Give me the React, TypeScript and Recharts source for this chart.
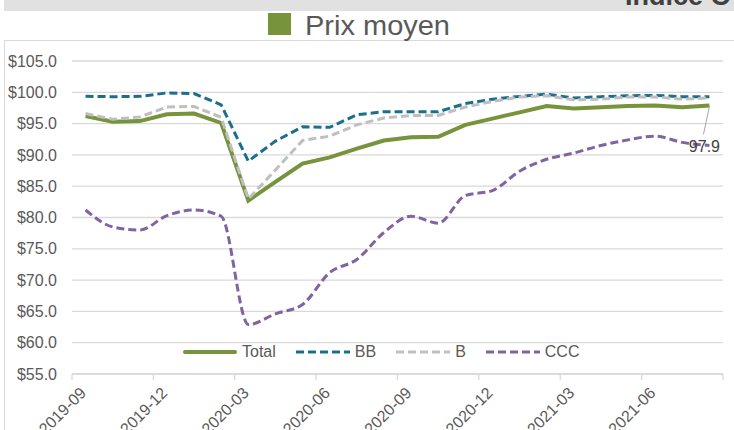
import React from 'react';
import { LineChart, Line, XAxis, YAxis, CartesianGrid, Legend, LabelList } from 'recharts';

const FONT = '"Liberation Sans", Arial, sans-serif';
const TEXT = '#595959';

const months = [
  '2019-09', '2019-10', '2019-11', '2019-12', '2020-01', '2020-02', '2020-03', '2020-04',
  '2020-05', '2020-06', '2020-07', '2020-08', '2020-09', '2020-10', '2020-11', '2020-12',
  '2021-01', '2021-02', '2021-03', '2021-04', '2021-05', '2021-06', '2021-07', '2021-08',
];
const tickLabels = ['2019-09', '2019-12', '2020-03', '2020-06', '2020-09', '2020-12', '2021-03', '2021-06', ''];
const xTicks = [0, 3, 6, 9, 12, 15, 18, 21, 24];
const yTicks = [55, 60, 65, 70, 75, 80, 85, 90, 95, 100, 105];

const totalValues = [96.2, 95.3, 95.4, 96.5, 96.6, 95.1, 82.7, 85.7, 88.6, 89.6, 91.0, 92.3, 92.8, 92.9, 94.8, 95.8, 96.8, 97.8, 97.4, 97.6, 97.8, 97.9, 97.6, 97.9];
const bbValues = [99.35, 99.3, 99.35, 99.9, 99.8, 98.0, 89.0, 92.2, 94.5, 94.4, 96.4, 96.9, 96.9, 96.9, 98.2, 98.9, 99.35, 99.7, 99.1, 99.3, 99.45, 99.5, 99.3, 99.3];
const bValues = [96.6, 95.7, 96.05, 97.65, 97.75, 96.0, 82.95, 87.6, 92.3, 93.0, 94.8, 95.9, 96.3, 96.3, 97.65, 98.55, 99.25, 99.45, 98.8, 98.9, 99.25, 99.25, 98.9, 99.1];
const cccValues = [81.2, 78.5, 78.0, 80.3, 81.2, 80.2, 62.9, 64.6, 66.1, 71.2, 73.3, 77.6, 80.2, 79.1, 83.5, 84.3, 87.4, 89.3, 90.3, 91.5, 92.4, 93.0, 92.0, 91.5];

const data = months.map((m, i) => ({
  month: m,
  pos: i + 0.5,
  total: totalValues[i],
  bb: bbValues[i],
  b: bValues[i],
  ccc: cccValues[i],
}));

type Series = { key: string; name: string; color: string; width: number; dash?: string; curve: 'linear' | 'monotone' };
const series: Series[] = [
  { key: 'total', name: 'Total', color: '#77933C', width: 4, curve: 'linear' },
  { key: 'bb', name: 'BB', color: '#1B6E8C', width: 3, dash: '8 4', curve: 'linear' },
  { key: 'b', name: 'B', color: '#BFBFBF', width: 3, dash: '8 4', curve: 'linear' },
  { key: 'ccc', name: 'CCC', color: '#8064A2', width: 3, dash: '8 4', curve: 'monotone' },
];

const XTick = (props: any) => {
  const { x, y, payload } = props;
  const label = tickLabels[Math.round(payload.value / 3)] ?? '';
  const tx = x + 15;
  const ty = y + 12;
  return (
    <text x={tx} y={ty} transform={`rotate(-45, ${tx}, ${ty})`} textAnchor="end" fill={TEXT} fontSize={16} fontFamily={FONT}>
      {label}
    </text>
  );
};

const EndLabel = (props: any) => {
  const { x, y, value, index } = props;
  if (index !== totalValues.length - 1) return null;
  return (
    <g>
      <line x1={x} y1={y + 1} x2={x - 6} y2={y + 29} stroke="#a6a6a6" strokeWidth={1} />
      <text x={x - 5} y={y + 47} textAnchor="middle" fill="#404040" fontSize={16} fontFamily={FONT}>
        {Number(value).toFixed(1)}
      </text>
    </g>
  );
};

const renderLegend = () => (
  <div style={{ display: 'flex', alignItems: 'center', fontFamily: FONT, fontSize: 16, color: TEXT, whiteSpace: 'nowrap' }}>
    {series.map((s) => (
      <div key={s.key} style={{ display: 'flex', alignItems: 'center', marginRight: 20 }}>
        <svg width={54} height={10}>
          <line
            x1={s.dash ? 0 : 2}
            y1={5}
            x2={s.dash ? 54 : 52}
            y2={5}
            stroke={s.color}
            strokeWidth={s.width}
            strokeDasharray={s.dash}
            strokeLinecap={s.dash ? 'butt' : 'round'}
          />
        </svg>
        <span style={{ marginLeft: 5 }}>{s.name}</span>
      </div>
    ))}
  </div>
);

export default function App() {
  return (
    <div style={{ position: 'absolute', left: 0, top: 0, width: 734, height: 430, background: '#fff', overflow: 'hidden', fontFamily: FONT }}>
      <svg width={730} height={11} style={{ position: 'absolute', left: 4, top: 0, background: '#e1e1e1' }}>
        <text x={621} y={5} fontSize={27} fontWeight="bold" fill="#404040" fontFamily={FONT}>Indice C</text>
      </svg>
      <div style={{ position: 'absolute', left: 4, top: 40, width: 760, height: 420, border: '1px solid #d9d9d9' }} />
      <svg width={734} height={50} style={{ position: 'absolute', left: 0, top: 0 }}>
        <rect x={268} y={13} width={23} height={22} fill="#77933C" />
        <text x={305} y={35} fontSize={28.5} fill={TEXT} fontFamily={FONT} textLength={145} lengthAdjust="spacingAndGlyphs">Prix moyen</text>
      </svg>
      <div style={{ position: 'absolute', left: 0, top: 0 }}>
        <LineChart width={734} height={430} data={data} margin={{ top: 61, right: 11, bottom: 0, left: 0 }}>
          <CartesianGrid vertical={false} stroke="#d9d9d9" strokeWidth={1.3} />
          <XAxis
            type="number"
            dataKey="pos"
            domain={[0, 24]}
            ticks={xTicks}
            interval={0}
            height={56}
            tickSize={6}
            tickMargin={2}
            axisLine={{ stroke: '#d9d9d9', strokeWidth: 1.3 }}
            tickLine={{ stroke: '#d9d9d9', strokeWidth: 1.3 }}
            tick={<XTick />}
          />
          <YAxis
            type="number"
            domain={[55, 105]}
            ticks={yTicks}
            interval={0}
            width={72}
            axisLine={false}
            tickLine={false}
            tickSize={0}
            tickMargin={15}
            tick={{ fill: TEXT, fontSize: 16, fontFamily: FONT }}
            tickFormatter={(v: number) => `$${v.toFixed(1)}`}
          />
          <Legend
            layout="horizontal"
            verticalAlign="middle"
            align="center"
            content={renderLegend}
            wrapperStyle={{ top: 343, left: 183, width: 'auto', height: 20 }}
          />
          {series.map((s) => (
            <Line
              key={s.key}
              dataKey={s.key}
              name={s.name}
              type={s.curve}
              stroke={s.color}
              strokeWidth={s.width}
              strokeDasharray={s.dash}
              dot={false}
              activeDot={false}
              isAnimationActive={false}
            >
              {s.key === 'total' ? <LabelList dataKey="total" content={<EndLabel />} /> : null}
            </Line>
          ))}
        </LineChart>
      </div>
    </div>
  );
}
